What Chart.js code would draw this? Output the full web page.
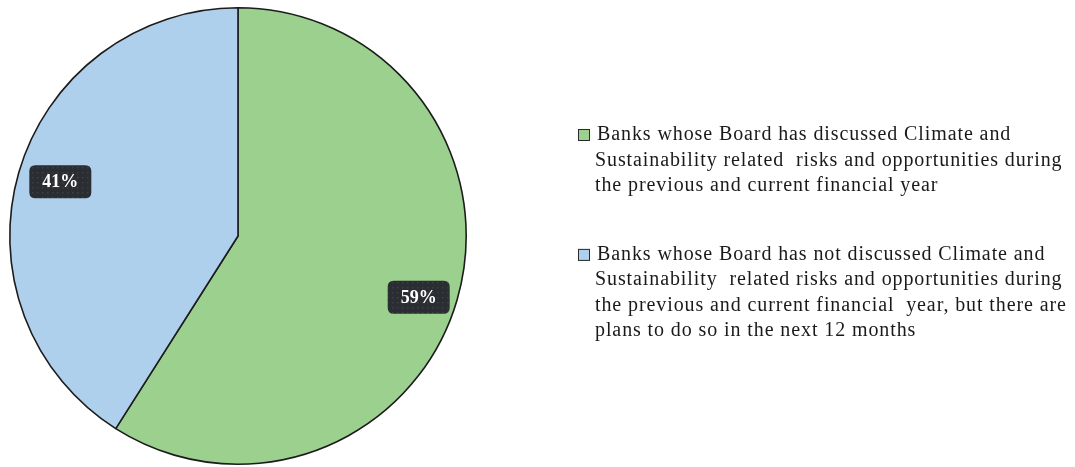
<!DOCTYPE html>
<html>
<head>
<meta charset="utf-8">
<script src="https://cdn.jsdelivr.net/npm/chart.js@4.4.1/dist/chart.umd.min.js"></script>
<style>
  html, body { margin: 0; padding: 0; background: #ffffff; }
  #wrap { width: 1075px; height: 467px; position: relative; }
</style>
</head>
<body>
<div id="wrap"><canvas id="chart"></canvas></div>
<script>
// Share of banks by board discussion status (percent)
const categories = [
  ["Banks whose Board has discussed Climate and",
   "Sustainability related  risks and opportunities during",
   "the previous and current financial year"],
  ["Banks whose Board has not discussed Climate and",
   "Sustainability  related risks and opportunities during",
   "the previous and current financial  year, but there are",
   "plans to do so in the next 12 months"]
];
const shares = [59, 41];
const sliceColors = ["#9cd08f", "#afd0ec"];

// Dotted dark fill used behind the value labels
function makeDotPattern(ctx) {
  const c = document.createElement("canvas");
  c.width = 5; c.height = 5;
  const p = c.getContext("2d");
  p.fillStyle = "#2a2e32";
  p.fillRect(0, 0, 5, 5);
  p.fillStyle = "#3b4045";
  p.fillRect(2, 2, 1.5, 1.5);
  return ctx.createPattern(c, "repeat");
}

function roundRect(ctx, x, y, w, h, r) {
  ctx.beginPath();
  ctx.moveTo(x + r, y);
  ctx.lineTo(x + w - r, y);
  ctx.quadraticCurveTo(x + w, y, x + w, y + r);
  ctx.lineTo(x + w, y + h - r);
  ctx.quadraticCurveTo(x + w, y + h, x + w - r, y + h);
  ctx.lineTo(x + r, y + h);
  ctx.quadraticCurveTo(x, y + h, x, y + h - r);
  ctx.lineTo(x, y + r);
  ctx.quadraticCurveTo(x, y, x + r, y);
  ctx.closePath();
}

// Value badges placed along each slice's middle angle
const valueBadges = {
  id: "valueBadges",
  afterDatasetsDraw(chart) {
    const ctx = chart.ctx;
    const meta = chart.getDatasetMeta(0);
    const values = chart.data.datasets[0].data;
    const o = chart.options.plugins.valueBadges;
    const fill = makeDotPattern(ctx);
    ctx.save();
    ctx.font = o.font;
    ctx.textAlign = "center";
    ctx.textBaseline = "middle";
    meta.data.forEach((arc, i) => {
      const mid = (arc.startAngle + arc.endAngle) / 2;
      const r = arc.outerRadius * o.radiusFactor;
      const nudge = o.nudge[i] || [0, 0];
      const cx = arc.x + Math.cos(mid) * r + nudge[0];
      const cy = arc.y + Math.sin(mid) * r + nudge[1];
      const text = values[i] + "%";
      const w = ctx.measureText(text).width + 26;
      const h = 33;
      roundRect(ctx, cx - w / 2, cy - h / 2, w, h, 6);
      ctx.fillStyle = fill;
      ctx.fill();
      ctx.fillStyle = "#ffffff";
      ctx.fillText(text, cx, cy + 1);
    });
    ctx.restore();
  }
};

// Multi-line legend drawn to the right of the pie
const sideLegend = {
  id: "sideLegend",
  afterDraw(chart) {
    const ctx = chart.ctx;
    const labels = chart.data.labels;
    const colors = chart.data.datasets[0].backgroundColor;
    const o = chart.options.plugins.sideLegend;
    ctx.save();
    ctx.font = o.font;
    if ("letterSpacing" in ctx) ctx.letterSpacing = o.letterSpacing;
    ctx.textBaseline = "middle";
    let y = o.top;
    labels.forEach((lines, i) => {
      ctx.fillStyle = colors[i];
      ctx.fillRect(o.boxX, y - o.box / 2, o.box, o.box);
      ctx.strokeStyle = "#2a2a2a";
      ctx.lineWidth = 1;
      ctx.strokeRect(o.boxX + 0.5, y - o.box / 2 + 0.5, o.box - 1, o.box - 1);
      ctx.fillStyle = "#1a1a1a";
      lines.forEach((line, j) => {
        ctx.fillText(line, j === 0 ? o.textX : o.textX - 2, y + j * o.lineHeight);
      });
      y += lines.length * o.lineHeight + o.gap;
    });
    ctx.restore();
  }
};

new Chart(document.getElementById("chart"), {
  type: "pie",
  data: {
    labels: categories,
    datasets: [{
      data: shares,
      backgroundColor: sliceColors,
      borderColor: "#1c1c1c",
      borderWidth: 1.6
    }]
  },
  options: {
    responsive: true,
    maintainAspectRatio: false,
    animation: false,
    layout: { padding: { left: 9, right: 608, top: 7, bottom: 2 } },
    plugins: {
      legend: { display: false },
      tooltip: { enabled: false },
      valueBadges: {
        font: "bold 18px 'Liberation Serif', serif",
        radiusFactor: 0.82,
        nudge: [[1, 9], [2, -2]]
      },
      sideLegend: {
        font: "20px 'Liberation Serif', serif",
        letterSpacing: "0.9px",
        top: 135, boxX: 578, box: 12, textX: 597,
        lineHeight: 25.3, gap: 44
      }
    }
  },
  plugins: [valueBadges, sideLegend]
});
</script>
</body>
</html>
